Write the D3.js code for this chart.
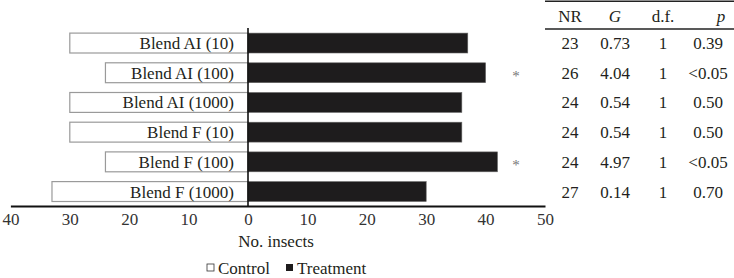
<html>

<head>
    <script src="https://d3js.org/d3.v7.min.js"></script>
    <style>
        body { margin: 0; background: #fff; }
    </style>
</head>

<body>
    <svg height="278" width="734" id="chart"></svg>
    <script>
        // data
        const blends = ["Blend AI (10)", "Blend AI (100)", "Blend AI (1000)", "Blend F (10)", "Blend F (100)", "Blend F (1000)"];
        const control = [30, 24, 30, 30, 24, 33];
        const treatment = [37, 40, 36, 36, 42, 30];
        const signif = ["", "*", "", "", "*", ""];
        const nr = ["23", "26", "24", "24", "24", "27"];
        const gStat = ["0.73", "4.04", "0.54", "0.54", "4.97", "0.14"];
        const df = ["1", "1", "1", "1", "1", "1"];
        const pVal = ["0.39", "<0.05", "0.50", "0.50", "<0.05", "0.70"];
        const xTicks = [-40, -30, -20, -10, 0, 10, 20, 30, 40, 50];

        const svg = d3.select("#chart");
        const fontSize = 17;
        const serif = "'Liberation Serif', 'Times New Roman', Tinos, serif";

        const xScale = d3.scaleLinear().domain([-40, 50]).range([10.4, 545]);
        const yScale = d3.scaleBand().domain(blends)
            .range([28.2, 206.4])
            .paddingInner(0.33)
            .paddingOuter(0.165);

        const rows = blends.map((b, i) => ({
            blend: b, control: control[i], treatment: treatment[i], star: signif[i],
            nr: nr[i], g: gStat[i], df: df[i], p: pVal[i]
        }));

        // control bars (left, white)
        svg.selectAll("rect.control").data(rows)
            .join("rect")
            .attr("class", "control")
            .attr("x", d => xScale(-d.control))
            .attr("y", d => yScale(d.blend))
            .attr("width", d => xScale(0) - xScale(-d.control))
            .attr("height", yScale.bandwidth())
            .attr("fill", "#fff")
            .attr("stroke", "#9a9a9a")
            .attr("stroke-width", 1.2);

        // treatment bars (right, black)
        svg.selectAll("rect.treat").data(rows)
            .join("rect")
            .attr("class", "treat")
            .attr("x", xScale(0))
            .attr("y", d => yScale(d.blend))
            .attr("width", d => xScale(d.treatment) - xScale(0))
            .attr("height", yScale.bandwidth())
            .attr("fill", "#1e1c1d")
            .attr("stroke", "#666")
            .attr("stroke-width", 0.6);

        // labels inside control bars
        svg.selectAll("text.blend").data(rows)
            .join("text")
            .attr("class", "blend")
            .attr("x", xScale(0) - 14)
            .attr("y", d => yScale(d.blend) + yScale.bandwidth() / 2)
            .attr("dy", "0.35em")
            .attr("text-anchor", "end")
            .text(d => d.blend);

        // significance stars
        svg.selectAll("text.star").data(rows)
            .join("text")
            .attr("class", "star")
            .attr("x", 516)
            .attr("y", d => yScale(d.blend) + yScale.bandwidth() / 2)
            .attr("dy", "0.55em")
            .attr("text-anchor", "middle")
            .style("fill", "#777")
            .text(d => d.star);

        // vertical zero line
        svg.append("line")
            .attr("x1", xScale(0)).attr("x2", xScale(0))
            .attr("y1", 28).attr("y2", 206)
            .attr("stroke", "#111")
            .attr("stroke-width", 1.6);

        // x axis
        const xAxis = d3.axisBottom(xScale)
            .tickValues(xTicks)
            .tickSize(0)
            .tickPadding(7)
            .tickFormat(d => Math.abs(d));
        const gx = svg.append("g")
            .attr("transform", "translate(0,206)")
            .call(xAxis);
        gx.attr("font-family", null).attr("font-size", null);
        gx.select(".domain").attr("stroke", "#111").attr("stroke-width", 2);
        gx.selectAll("text").style("fill", "#333");

        svg.append("text")
            .attr("x", 276)
            .attr("y", 247)
            .attr("text-anchor", "middle")
            .text("No. insects");

        // legend
        const legend = svg.append("g").attr("transform", "translate(207,268)");
        legend.append("rect")
            .attr("x", 0).attr("y", -4).attr("width", 7).attr("height", 7)
            .attr("fill", "#fff").attr("stroke", "#333").attr("stroke-width", 0.8);
        legend.append("text")
            .attr("x", 11).attr("y", 0).attr("dy", "0.35em")
            .text("Control");
        legend.append("rect")
            .attr("x", 79).attr("y", -4).attr("width", 7).attr("height", 7)
            .attr("fill", "#1e1c1d");
        legend.append("text")
            .attr("x", 90).attr("y", 0).attr("dy", "0.35em")
            .text("Treatment");

        // statistics table
        const cols = [
            { key: "nr", head: "NR", x: 570, hx: 570, italic: false },
            { key: "g", head: "G", x: 615, hx: 615, italic: true },
            { key: "df", head: "d.f.", x: 663, hx: 663, italic: false },
            { key: "p", head: "p", x: 708, hx: 721, italic: true }
        ];

        svg.append("line")
            .attr("x1", 545).attr("x2", 734).attr("y1", 1.2).attr("y2", 1.2)
            .attr("stroke", "#222").attr("stroke-width", 1.4);
        svg.append("line")
            .attr("x1", 545).attr("x2", 734).attr("y1", 29).attr("y2", 29)
            .attr("stroke", "#222").attr("stroke-width", 1.4);

        cols.forEach(c => {
            svg.append("text")
                .attr("x", c.hx)
                .attr("y", 16)
                .attr("dy", "0.35em")
                .attr("text-anchor", "middle")
                .style("font-style", c.italic ? "italic" : "normal")
                .text(c.head);

            svg.selectAll("text.col-" + c.key).data(rows)
                .join("text")
                .attr("class", "col-" + c.key)
                .attr("x", c.x)
                .attr("y", d => yScale(d.blend) + yScale.bandwidth() / 2)
                .attr("dy", "0.35em")
                .attr("text-anchor", "middle")
                .text(d => d[c.key]);
        });

        // serif font on every text
        svg.selectAll("text")
            .attr("font-family", serif)
            .style("font-family", serif)
            .style("font-size", fontSize + "px")
            .filter(function () { return !this.style.fill; })
            .style("fill", "#231f20");
        svg.selectAll("text.star").style("font-size", "15px");
    </script>
</body>

</html>
